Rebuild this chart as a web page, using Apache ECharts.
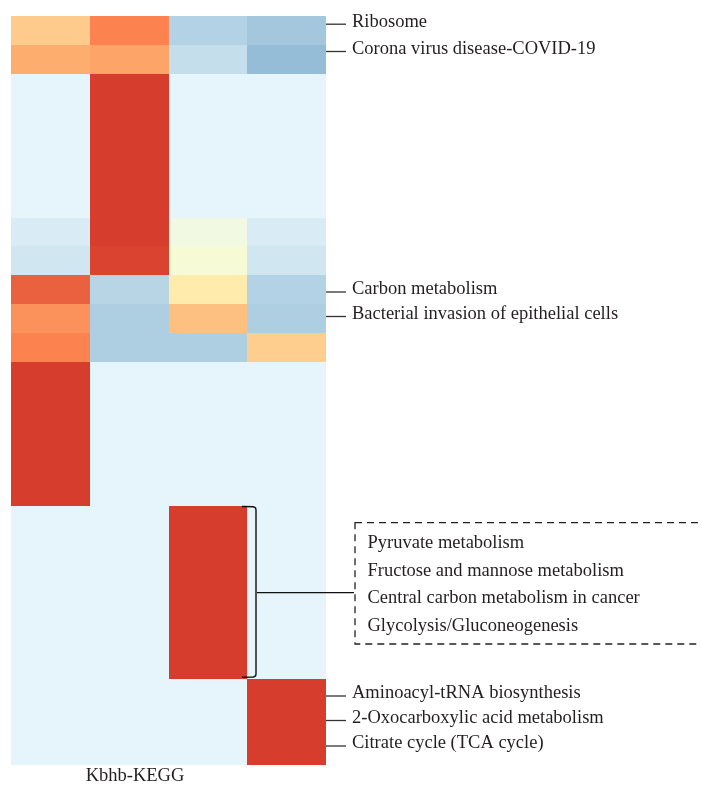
<!DOCTYPE html>
<html>
<head>
<meta charset="utf-8">
<script src="https://cdn.jsdelivr.net/npm/echarts@6/dist/echarts.min.js"></script>
<style>
  html, body { margin: 0; padding: 0; background: #fff; }
  #chart { width: 701px; height: 786px; }
</style>
</head>
<body>
<div id="chart"></div>
<script>
// Heatmap columns (left to right) and rows (top to bottom)
const columns = ['C1', 'C2', 'C3', 'C4'];
const rows = Array.from({ length: 26 }, (_, i) => 'P' + String(i + 1).padStart(2, '0'));

// Scaled enrichment scores, one array per column, 26 rows each
const col1Values = [0.32, 0.50, -0.5, -0.5, -0.5, -0.5, -0.5, -0.58, -0.63, 1.24, 0.83, 1.0,
  1.5, 1.5, 1.5, 1.5, 1.5, -0.5, -0.5, -0.5, -0.5, -0.5, -0.5, -0.5, -0.5, -0.5];
const col2Values = [1.0, 0.60, 1.5, 1.5, 1.5, 1.5, 1.5, 1.5, 1.46, -0.78, -0.84, -0.84,
  -0.5, -0.5, -0.5, -0.5, -0.5, -0.5, -0.5, -0.5, -0.5, -0.5, -0.5, -0.5, -0.5, -0.5];
const col3Values = [-0.80, -0.70, -0.5, -0.5, -0.5, -0.5, -0.5, -0.29, -0.19, 0.12, 0.39, -0.84,
  -0.5, -0.5, -0.5, -0.5, -0.5, 1.5, 1.5, 1.5, 1.5, 1.5, 1.5, -0.5, -0.5, -0.5];
const col4Values = [-0.90, -0.98, -0.5, -0.5, -0.5, -0.5, -0.5, -0.58, -0.63, -0.80, -0.84, 0.30,
  -0.5, -0.5, -0.5, -0.5, -0.5, -0.5, -0.5, -0.5, -0.5, -0.5, -0.5, 1.5, 1.5, 1.5];

// Pathway annotations
const sideLabels = ['Ribosome', 'Corona virus disease-COVID-19', 'Carbon metabolism',
  'Bacterial invasion of epithelial cells', 'Aminoacyl-tRNA biosynthesis',
  '2-Oxocarboxylic acid metabolism', 'Citrate cycle (TCA cycle)'];
const groupLabels = ['Pyruvate metabolism', 'Fructose and mannose metabolism',
  'Central carbon metabolism in cancer', 'Glycolysis/Gluconeogenesis'];
const bottomTitle = 'Kbhb-KEGG';

// Layout of the annotation layer (pixels)
const sideLabelY = [21.7, 49, 289.5, 314, 693.5, 718, 743.5];
const groupLabelY = [542.7, 571, 598.5, 626];
const FONT = '"Liberation Serif", "Times New Roman", serif';
const FONT_SIZE = 18.5;
const INK = '#231F20';

const columnsData = [col1Values, col2Values, col3Values, col4Values];
const heatData = [];
columnsData.forEach((vals, ci) => {
  vals.forEach((v, ri) => heatData.push([ci, ri, v]));
});

function label(txt, x, y, align) {
  return {
    type: 'text', silent: true, x: x, y: y, z: 10,
    style: {
      text: txt, fontFamily: FONT, fontSize: FONT_SIZE, fill: INK,
      verticalAlign: 'middle', align: align
    }
  };
}

const graphics = [];
sideLabels.forEach((txt, i) => {
  const y = sideLabelY[i];
  graphics.push({
    type: 'line', silent: true, z: 10,
    shape: { x1: 326, y1: y + 2.5, x2: 346, y2: y + 2.5 },
    style: { stroke: '#333', lineWidth: 1.3 }
  });
  graphics.push(label(txt, 352, y, 'left'));
});
groupLabels.forEach((txt, i) => {
  graphics.push(label(txt, 367.5, groupLabelY[i], 'left'));
});
// bracket spanning the group rows
graphics.push({
  type: 'polyline', silent: true, z: 10,
  shape: { points: [[242, 506.5], [253.5, 506.8], [255.6, 508], [256, 510], [256, 674], [255.6, 676], [253.5, 677], [242, 677.3]] },
  style: { stroke: '#111', lineWidth: 1.4, fill: null }
});
// connector from bracket to the dashed box
graphics.push({
  type: 'line', silent: true, z: 10,
  shape: { x1: 257, y1: 592.7, x2: 354, y2: 592.7 },
  style: { stroke: '#111', lineWidth: 1.3 }
});
// dashed box around grouped pathways
graphics.push({
  type: 'rect', silent: true, z: 10,
  shape: { x: 355, y: 522.7, width: 380, height: 121.3 },
  style: { stroke: '#222', lineWidth: 1.3, fill: 'transparent', lineDash: [7, 5] }
});
graphics.push(label(bottomTitle, 135, 776, 'center'));

// heat cells: whole-pixel rects; each one reaches 1px into the next row/column
// (drawn afterwards) so neighbouring cells never leave a hairline gap
function renderCell(params, api) {
  const col = api.value(0);
  const row = api.value(1);
  const c = api.coord([col, row]);
  const s = api.size([1, 1]);
  const x0 = Math.round(c[0] - s[0] / 2);
  const x1 = Math.round(c[0] + s[0] / 2) + (col < columns.length - 1 ? 1 : 0);
  const y0 = Math.round(c[1] - s[1] / 2);
  const y1 = Math.round(c[1] + s[1] / 2) + (row < rows.length - 1 ? 1 : 0);
  return {
    type: 'rect',
    shape: { x: x0, y: y0, width: x1 - x0, height: y1 - y0 },
    style: { fill: api.visual('color') }
  };
}

const chart = echarts.init(document.getElementById('chart'), null, { renderer: 'canvas' });
chart.setOption({
  backgroundColor: '#ffffff',
  animation: false,
  grid: { left: 11, top: 16, width: 315, height: 749 },
  xAxis: {
    type: 'category', data: columns,
    axisLine: { show: false }, axisTick: { show: false }, axisLabel: { show: false },
    splitLine: { show: false }
  },
  yAxis: {
    type: 'category', data: rows, inverse: true,
    axisLine: { show: false }, axisTick: { show: false }, axisLabel: { show: false },
    splitLine: { show: false }
  },
  visualMap: {
    type: 'continuous', show: false, min: -1, max: 1.5, dimension: 2,
    inRange: { color: ['#93BBD6', '#E6F5FB', '#FFFFBF', '#FDAE6F', '#FC8350', '#D73D2C'] }
  },
  series: [{
    type: 'custom',
    renderItem: renderCell,
    encode: { x: 0, y: 1 },
    data: heatData,
    silent: true
  }],
  graphic: graphics
});
</script>
</body>
</html>
